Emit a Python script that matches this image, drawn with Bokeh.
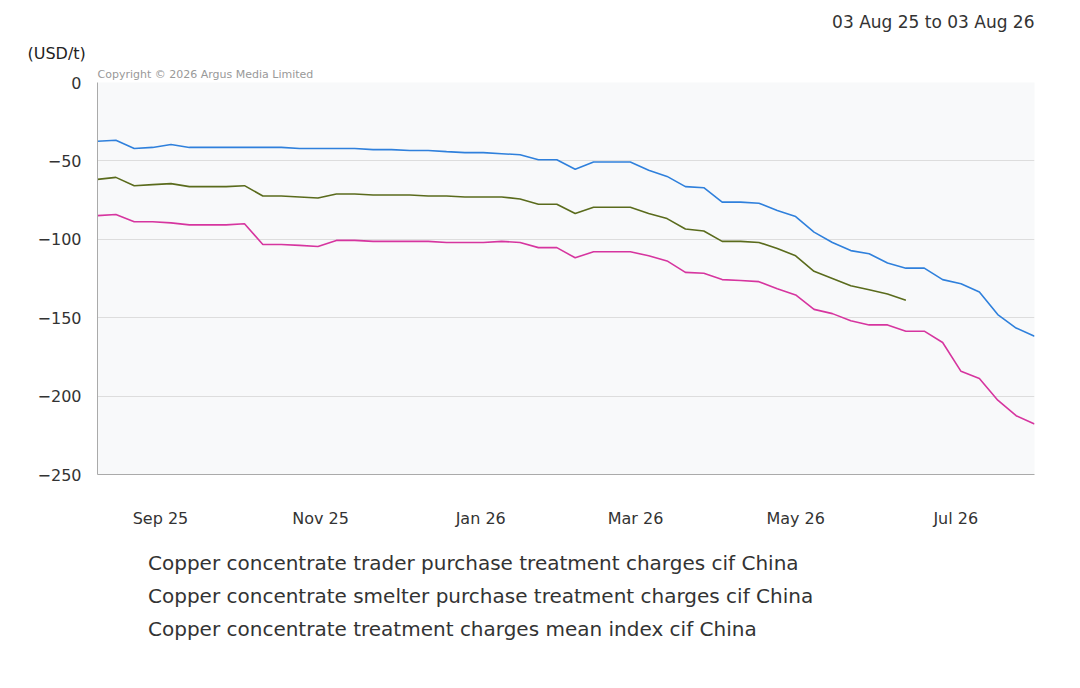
import pandas as pd
import numpy as np
from bokeh.plotting import figure
from bokeh.layouts import column
from bokeh.models import (ColumnDataSource, Legend, LegendItem, Title, MonthsTicker,
                          DatetimeTickFormatter, Range1d, SingleIntervalTicker)
from bokeh.embed import file_html
from bokeh.resources import INLINE

dates = pd.date_range("2025-08-08", periods=52, freq="7D")

smelter = [-37.5, -36.8, -42.1, -41.4, -39.5, -41.4, -41.4, -41.4, -41.4, -41.4, -41.4, -42.1, -42.1,
           -42.1, -42.1, -42.8, -42.8, -43.4, -43.4, -44.1, -44.7, -44.7, -45.4, -46.1, -49.3, -49.3,
           -55.3, -50.7, -50.7, -50.7, -55.9, -59.9, -66.4, -67.1, -76.3, -76.3, -77.0, -81.6, -85.5,
           -95.4, -102.0, -107.2, -109.2, -115.1, -118.4, -118.4, -125.7, -128.3, -133.6, -148.0,
           -156.6, -161.8]
mean_index = [-61.8, -60.5, -65.8, -65.1, -64.5, -66.4, -66.4, -66.4, -65.8, -72.4, -72.4, -73.0, -73.7,
              -71.1, -71.1, -71.7, -71.7, -71.7, -72.4, -72.4, -73.0, -73.0, -73.0, -74.3, -77.6, -77.6,
              -83.6, -79.6, -79.6, -79.6, -83.6, -86.8, -93.4, -94.7, -101.3, -101.3, -102.0, -105.9,
              -110.5, -120.4, -125.0, -129.6, -132.2, -134.9, -138.8] + [np.nan] * 7
trader = [-84.9, -84.2, -88.8, -88.8, -89.5, -90.8, -90.8, -90.8, -90.1, -103.3, -103.3, -103.9, -104.6,
          -100.7, -100.7, -101.3, -101.3, -101.3, -101.3, -102.0, -102.0, -102.0, -101.3, -102.0, -105.3,
          -105.3, -111.8, -107.9, -107.9, -107.9, -110.5, -113.8, -121.1, -121.7, -125.7, -126.3, -127.0,
          -131.6, -135.5, -144.7, -147.4, -152.0, -154.6, -154.6, -158.6, -158.6, -165.8, -184.2, -188.8,
          -202.6, -212.5, -217.8]

names = ["Copper concentrate trader purchase treatment charges cif China",
         "Copper concentrate smelter purchase treatment charges cif China",
         "Copper concentrate treatment charges mean index cif China"]
colors = ["#d6359f", "#2f80dc", "#5a6b1c"]

src = ColumnDataSource(dict(x=dates, trader=trader, smelter=smelter, mean=mean_index))

p = figure(width=1064, height=530, x_axis_type="datetime", output_backend="svg",
           toolbar_location=None,
           x_range=Range1d(pd.Timestamp("2025-08-08"), pd.Timestamp("2026-07-31")),
           y_range=Range1d(-250, 0),
           min_border_left=97, min_border_right=30, min_border_top=0, min_border_bottom=0)
p.background_fill_color = "#f8f9fa"
p.border_fill_color = "white"
p.outline_line_color = None

p.line("x", "trader", source=src, color=colors[0], line_width=1.6)
p.line("x", "smelter", source=src, color=colors[1], line_width=1.6)
p.line("x", "mean", source=src, color=colors[2], line_width=1.6)

p.xaxis.ticker = MonthsTicker(months=[0, 2, 4, 6, 8, 10])
p.xaxis.formatter = DatetimeTickFormatter(months="%b %y", years="%b %y", days="%b %y")
p.yaxis.ticker = SingleIntervalTicker(interval=50)
for ax in (p.xaxis[0], p.yaxis[0]):
    ax.major_tick_line_color = None
    ax.minor_tick_line_color = None
    ax.axis_line_color = "#aaaaaa"
    ax.major_label_text_font = "DejaVu Sans"
    ax.major_label_text_font_size = "16px"
    ax.major_label_text_color = "#333333"
p.xaxis.major_label_standoff = 28
p.yaxis.major_label_standoff = 10
p.xgrid.grid_line_color = None
p.ygrid.grid_line_color = "#dddddd"

p.add_layout(Title(text="Copyright \u00a9 2026 Argus Media Limited", text_font="DejaVu Sans",
                   text_font_size="11px", text_color="#999999", text_font_style="normal",
                   align="left", offset=0, standoff=4), "above")
p.add_layout(Title(text="(USD/t)", text_font="DejaVu Sans", text_font_size="16px",
                   text_color="#222222", text_font_style="normal", align="left", offset=-70,
                   standoff=2), "above")
p.add_layout(Title(text="03 Aug 25 to 03 Aug 26", text_font="DejaVu Sans", text_font_size="17px",
                   text_color="#333333", text_font_style="normal", align="right", standoff=18), "above")

# legend panel
p2 = figure(width=1064, height=142, output_backend="svg", toolbar_location=None,
            x_range=Range1d(0, 1), y_range=Range1d(0, 1),
            min_border=0, outline_line_color=None)
p2.axis.visible = False
p2.grid.grid_line_color = None
items = []
for nm, c in zip(names, colors):
    r = p2.scatter(x=[], y=[], marker="square", size=14, color=c)
    items.append(LegendItem(label=nm, renderers=[r]))
legend = Legend(items=items, orientation="vertical", label_text_font="DejaVu Sans",
                label_text_font_size="20px", label_text_color="#333333",
                glyph_width=14, glyph_height=14, spacing=9, padding=0, margin=0,
                border_line_color=None, background_fill_alpha=0, label_standoff=10,
                label_height=22, location=(27, 31))
p2.add_layout(legend, "center")

open("out.html", "w").write(file_html(column(p, p2, spacing=0), INLINE))
